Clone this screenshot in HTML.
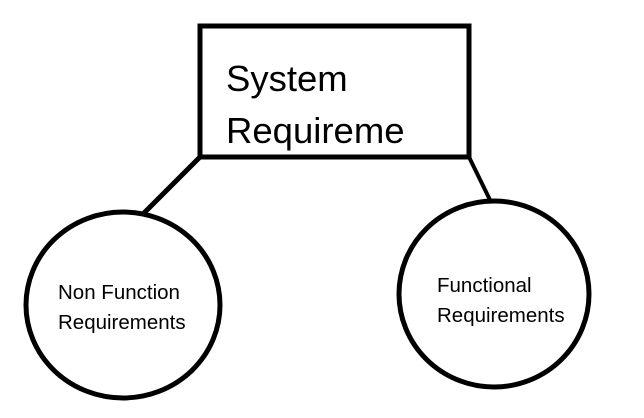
<!DOCTYPE html>
<html><head><style>html,body{margin:0;padding:0;background:#fff}</style></head>
<body>
<svg width="644" height="418" viewBox="0 0 644 418" xmlns="http://www.w3.org/2000/svg" style="display:block">
<rect x="200" y="26" width="269" height="131" fill="none" stroke="#000" stroke-width="5"/>
<line x1="200" y1="157" x2="143" y2="214" stroke="#000" stroke-width="5"/>
<line x1="469" y1="157" x2="491" y2="202" stroke="#000" stroke-width="4"/>
<ellipse cx="123" cy="305" rx="97" ry="93" fill="none" stroke="#000" stroke-width="5"/>
<ellipse cx="494" cy="294" rx="95" ry="93" fill="none" stroke="#000" stroke-width="5"/>
<g font-family="Liberation Sans, Arial, sans-serif" fill="#000">
<text x="226" y="91" font-size="36.5">System</text>
<text x="226" y="143" font-size="36.5">Requireme</text>
<text x="58" y="299" font-size="20.5">Non Function</text>
<text x="58" y="329" font-size="20.5">Requirements</text>
<text x="437" y="292" font-size="20.5">Functional</text>
<text x="437" y="322" font-size="20.5">Requirements</text>
</g>
</svg>
</body></html>
